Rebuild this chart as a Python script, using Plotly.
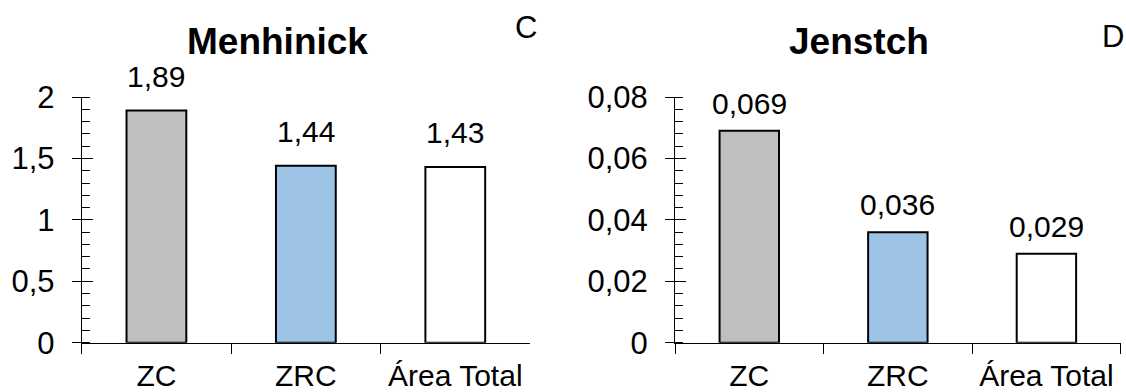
import plotly.graph_objects as go

# ---- data ----
categories = ["ZC", "ZRC", "Área Total"]
menhinick = [1.89, 1.44, 1.43]
jenstch = [0.069, 0.036, 0.029]
menhinick_labels = ["1,89", "1,44", "1,43"]
jenstch_labels = ["0,069", "0,036", "0,029"]
bar_colors = ["#BFBFBF", "#9DC3E6", "#FFFFFF"]
m_tickvals = [0, 0.5, 1, 1.5, 2]
m_ticktext = ["0", "0,5", "1", "1,5", "2"]
j_tickvals = [0, 0.02, 0.04, 0.06, 0.08]
j_ticktext = ["0", "0,02", "0,04", "0,06", "0,08"]

W, H = 1126, 392
FONT = "Liberation Sans, Arial, sans-serif"


def py(px):
    return 1 - px / H


fig = go.Figure()
fig.add_trace(go.Bar(x=categories, y=menhinick, xaxis="x", yaxis="y", width=0.4,
                     marker=dict(color=bar_colors, line=dict(color="black", width=2)),
                     showlegend=False, hoverinfo="skip"))
fig.add_trace(go.Bar(x=categories, y=jenstch, xaxis="x2", yaxis="y2", width=0.4,
                     marker=dict(color=bar_colors, line=dict(color="black", width=2)),
                     showlegend=False, hoverinfo="skip"))
# invisible helper traces so the overlay axes (inner half of major ticks) get drawn
fig.add_trace(go.Scatter(x=categories, y=menhinick, xaxis="x", yaxis="y3", mode="markers",
                         marker=dict(opacity=0), showlegend=False, hoverinfo="skip"))
fig.add_trace(go.Scatter(x=categories, y=jenstch, xaxis="x2", yaxis="y4", mode="markers",
                         marker=dict(opacity=0), showlegend=False, hoverinfo="skip"))

ydom = [py(342.7), py(97)]
common_x = dict(showline=True, linecolor="black", linewidth=1, ticks="outside", ticklen=10,
                tickcolor="black", tickson="boundaries", showgrid=False, zeroline=False,
                tickfont=dict(size=30, color="black", family=FONT), ticklabelstandoff=6,
                range=[-0.5, 2.5], automargin=False)
common_y = dict(showline=True, linecolor="black", linewidth=1, ticks="outside", ticklen=9,
                tickcolor="black", showgrid=False, zeroline=False, domain=ydom,
                tickfont=dict(size=31, color="black", family=FONT), ticklabelstandoff=11,
                automargin=False)
# inner half of the crossing major ticks
inner_y = dict(showline=False, ticks="inside", ticklen=11, tickcolor="black", showgrid=False,
               zeroline=False, showticklabels=False, domain=ydom, automargin=False)

fig.update_layout(
    width=W, height=H, margin=dict(l=0, r=0, t=0, b=0),
    paper_bgcolor="white", plot_bgcolor="white",
    font=dict(family=FONT, color="black"),
    xaxis=dict(domain=[81.7 / W, 530 / W], anchor="y", **common_x),
    xaxis2=dict(domain=[675 / W, 1120.7 / W], anchor="y2", **common_x),
    yaxis=dict(anchor="x", range=[0, 2], tickvals=m_tickvals, ticktext=m_ticktext,
               minor=dict(ticks="inside", ticklen=8, dtick=0.1, tickcolor="black", showgrid=False),
               **common_y),
    yaxis2=dict(anchor="x2", range=[0, 0.08], tickvals=j_tickvals, ticktext=j_ticktext,
                minor=dict(ticks="inside", ticklen=8, dtick=0.004, tickcolor="black", showgrid=False),
                **common_y),
    yaxis3=dict(anchor="x", overlaying="y", range=[0, 2], tickvals=m_tickvals, **inner_y),
    yaxis4=dict(anchor="x2", overlaying="y2", range=[0, 0.08], tickvals=j_tickvals, **inner_y),
)

ann = []
for c, v, t in zip(categories, menhinick, menhinick_labels):
    ann.append(dict(x=c, y=v, xref="x", yref="y", text=t, showarrow=False, yanchor="bottom",
                    yshift=16, font=dict(size=30, color="black", family=FONT)))
for c, v, t in zip(categories, jenstch, jenstch_labels):
    ann.append(dict(x=c, y=v, xref="x2", yref="y2", text=t, showarrow=False, yanchor="bottom",
                    yshift=9, font=dict(size=30, color="black", family=FONT)))

ann.append(dict(x=277.5 / W, y=py(42), xref="paper", yref="paper", text="<b>Menhinick</b>",
                showarrow=False, xanchor="center", yanchor="middle",
                font=dict(size=37, color="black", family=FONT)))
ann.append(dict(x=859 / W, y=py(42), xref="paper", yref="paper", text="<b>Jenstch</b>",
                showarrow=False, xanchor="center", yanchor="middle",
                font=dict(size=37, color="black", family=FONT)))
ann.append(dict(x=526 / W, y=py(28), xref="paper", yref="paper", text="C",
                showarrow=False, xanchor="center", yanchor="middle",
                font=dict(size=31, color="black", family=FONT)))
ann.append(dict(x=1113 / W, y=py(37), xref="paper", yref="paper", text="D",
                showarrow=False, xanchor="center", yanchor="middle",
                font=dict(size=31, color="black", family=FONT)))
fig.update_layout(annotations=ann)

fig.write_html("out.html")
